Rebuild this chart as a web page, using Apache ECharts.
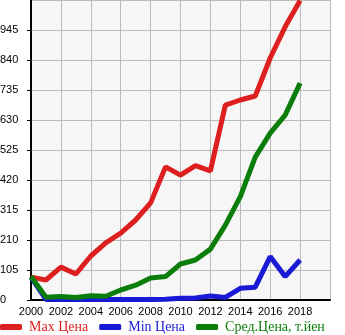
<!DOCTYPE html>
<html><head><meta charset="utf-8">
<script src="https://cdn.jsdelivr.net/npm/echarts@6/dist/echarts.min.js"></script>
<style>html,body{margin:0;padding:0;background:#fff}#c{width:345px;height:335px}</style>
</head><body><div id="c"></div>
<script>
const years = [2000,2001,2002,2003,2004,2005,2006,2007,2008,2009,2010,2011,2012,2013,2014,2015,2016,2017,2018];
const maxPrice = [80,70,115,91,154,200,234,280,340,466,437,470,452,682,700,714,847,956,1048];
const minPrice = [80,2,2,2,2,2,2,2,2,3,6,7,14,9,41,45,152,82,140];
const avgPrice = [82,10,12,9,15,13,35,52,77,82,126,140,178,262,362,500,584,647,759];
const seriesNames = ['Max Цена','Min Цена','Сред.Цена, т.йен'];
const colors = ['#dd1f1f','#1a1ad6','#0a7d0a'];
const toPairs = a => a.map((v,i)=>[years[i], v]);
const chart = echarts.init(document.getElementById('c'));
chart.setOption({
  animation:false,
  backgroundColor:'#fff',
  grid:{left:31,right:15,top:0,bottom:35,show:true,backgroundColor:'#f6f6f6',borderWidth:0,containLabel:false,outerBoundsMode:'none'},
  legend:{top:320,left:0,padding:0,itemWidth:22,itemHeight:6,itemGap:11,icon:'roundRect',
    data:seriesNames.map((n,i)=>({name:n,textStyle:{color:colors[i]}})),
    textStyle:{fontFamily:'Liberation Serif',fontSize:14,padding:[0,0,0,2]}},
  xAxis:{type:'value',min:2000,max:2020,interval:2,
    axisLine:{lineStyle:{color:'#000',width:2}},
    axisTick:{show:false},
    splitLine:{lineStyle:{color:'#bbb',width:1}},
    axisLabel:{showMaxLabel:false,hideOverlap:false,color:'#000',fontFamily:'Liberation Sans',fontSize:11,margin:6,formatter:v=>String(v)}},
  yAxis:{type:'value',min:0,max:1050,interval:105,
    axisLine:{show:true,lineStyle:{color:'#000',width:2}},
    axisTick:{show:true,length:4,lineStyle:{color:'#000'}},
    splitLine:{lineStyle:{color:'#bbb',width:1}},
    axisLabel:{showMaxLabel:false,color:'#000',fontFamily:'Liberation Sans',fontSize:11,margin:31,align:'left',padding:[0,0,6,0]}},
  series:[
    {name:seriesNames[0],type:'line',data:toPairs(maxPrice),symbol:'none',lineStyle:{width:5,color:colors[0]},itemStyle:{color:colors[0]}},
    {name:seriesNames[1],type:'line',data:toPairs(minPrice),symbol:'none',lineStyle:{width:5,color:colors[1]},itemStyle:{color:colors[1]}},
    {name:seriesNames[2],type:'line',data:toPairs(avgPrice),symbol:'none',lineStyle:{width:5,color:colors[2]},itemStyle:{color:colors[2]}}
  ]
});
</script></body></html>
